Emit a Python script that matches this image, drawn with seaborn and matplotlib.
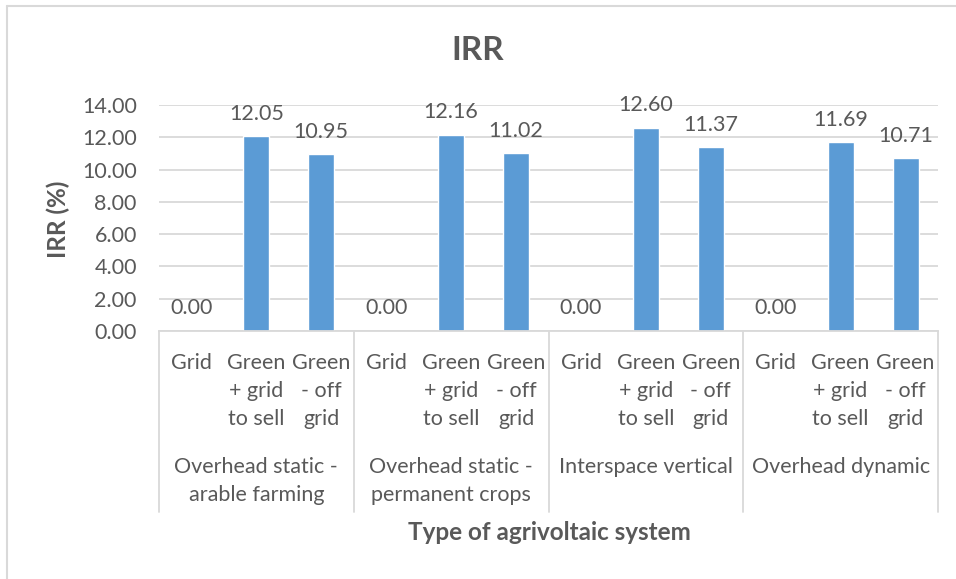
import matplotlib
matplotlib.use("Agg")
import matplotlib.pyplot as plt
import seaborn as sns
import pandas as pd
from matplotlib.lines import Line2D

# ---- data ----
systems = ["Overhead static -\narable farming",
           "Overhead static -\npermanent crops",
           "Interspace vertical",
           "Overhead dynamic"]
scenarios = ["Grid", "Green\n+ grid\nto sell", "Green\n- off\ngrid"]
irr_arable = [0.00, 12.05, 10.95]
irr_permanent = [0.00, 12.16, 11.02]
irr_interspace = [0.00, 12.60, 11.37]
irr_dynamic = [0.00, 11.69, 10.71]
y_ticks = [0, 2, 4, 6, 8, 10, 12, 14]

rows = []
for sys_name, vals in zip(systems, [irr_arable, irr_permanent, irr_interspace, irr_dynamic]):
    for sc, v in zip(scenarios, vals):
        rows.append({"key": sys_name + "|" + sc, "system": sys_name, "scenario": sc, "irr": v})
df = pd.DataFrame(rows)

sns.set_theme(style="white")
plt.rcParams["font.family"] = ["Lato", "DejaVu Sans"]
TXT = "#595959"
BAR = "#5B9BD5"
GRID = "#D9D9D9"

W, H = 956, 579
fig = plt.figure(figsize=(W / 100, H / 100), dpi=100)
fig.patch.set_facecolor("white")

L, R, T, B = 159, 938, 105, 331
ax = fig.add_axes([L / W, 1 - B / H, (R - L) / W, (B - T) / H])

sns.barplot(data=df, x="key", y="irr", order=list(df["key"]), color=BAR,
            saturation=1, width=0.4, ax=ax, errorbar=None)

ax.set_ylim(0, 14)
ax.set_xlim(-0.5, len(df) - 0.5)
ax.set_yticks(y_ticks)
ax.set_yticklabels([f"{t:.2f}" for t in y_ticks], fontsize=15.5, color=TXT)
ax.tick_params(axis="y", length=0, pad=16)
ax.tick_params(axis="x", length=0, pad=16)
ax.set_xticks(range(len(df)))
ax.set_xticklabels(list(df["scenario"]), fontsize=15.5, color=TXT, linespacing=1.5, va="top")
ax.yaxis.grid(True, color=GRID, linewidth=1.3)
ax.set_axisbelow(True)
for s in ["top", "right", "left"]:
    ax.spines[s].set_visible(False)
ax.spines["bottom"].set_color(GRID)
ax.spines["bottom"].set_linewidth(1.3)
ax.set_xlabel("")
ax.set_ylabel("")

# data labels
ax.bar_label(ax.containers[0], fmt="%.2f", padding=9, fontsize=15.5, color=TXT)

# category axis separators
trans = ax.get_xaxis_transform()
ybot = (B - 512) / (B - T)
for xb in [-0.5, 2.5, 5.5, 8.5, 11.5]:
    ax.add_line(Line2D([xb, xb], [0, ybot], transform=trans, color=GRID,
                       linewidth=1.3, clip_on=False))

# group labels
ygrp = (B - 457) / (B - T)
for i, sys_name in enumerate(systems):
    ax.text(3 * i + 1, ygrp, sys_name, transform=trans, ha="center", va="top",
            fontsize=15.5, color=TXT, linespacing=1.5)

# titles
fig.text(478 / W, 1 - 50 / H, "IRR", ha="center", va="center", fontsize=24,
         fontweight="bold", color=TXT)
fig.text(58 / W, 1 - 219 / H, "IRR (%)", ha="center", va="center", rotation=90,
         fontsize=17.5, fontweight="bold", color=TXT)
fig.text(549 / W, 1 - 533 / H, "Type of agrivoltaic system", ha="center", va="center",
         fontsize=17.5, fontweight="bold", color=TXT)

# outer chart border (top and left visible)
fig.add_artist(Line2D([7 / W, 7 / W], [1 - 6 / H, 0], transform=fig.transFigure,
                      color=GRID, linewidth=1.5))
fig.add_artist(Line2D([7 / W, 1], [1 - 6 / H, 1 - 6 / H], transform=fig.transFigure,
                      color=GRID, linewidth=1.5))

fig.savefig("out.png", dpi=100)
